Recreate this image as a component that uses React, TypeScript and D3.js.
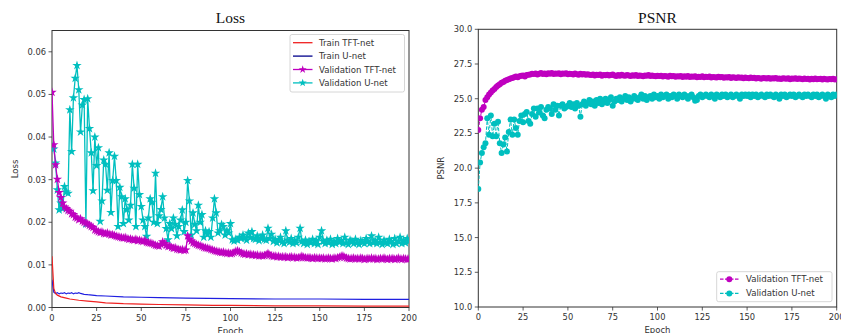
import * as d3 from "d3";

// ---------- data ----------
const xTicks = [0, 25, 50, 75, 100, 125, 150, 175, 200];
const lossTicks = [0, 0.01, 0.02, 0.03, 0.04, 0.05, 0.06];
const psnrTicks = [10, 12.5, 15, 17.5, 20, 22.5, 25, 27.5, 30];

const trainTftEpochs = [0, 1, 2, 3, 5, 8, 10, 15, 20, 25, 30, 40, 50, 60, 75, 90, 100, 125, 150, 175, 200];
const trainTft = [0.0120, 0.0045, 0.0033, 0.0029, 0.0025, 0.0022, 0.0020, 0.0017, 0.0015, 0.0013, 0.0011, 0.0009, 0.0008, 0.0007, 0.0006, 0.0005, 0.0005, 0.0004, 0.0004, 0.0003, 0.0003];

const trainUnetEpochs = [0, 1, 2, 3, 4, 5, 6, 7, 8, 9, 10, 11, 12, 13, 14, 15, 16, 18, 20, 25, 30, 40, 50, 60, 75, 100, 125, 150, 175, 200];
const trainUnet = [0.0065, 0.0036, 0.0033, 0.0035, 0.0032, 0.0034, 0.0033, 0.0035, 0.0032, 0.0034, 0.0033, 0.0035, 0.0032, 0.0034, 0.0033, 0.0035, 0.0033, 0.0031, 0.0030, 0.0028, 0.0027, 0.0025, 0.0024, 0.0023, 0.0022, 0.0021, 0.0020, 0.0020, 0.0019, 0.0019];

// one value per epoch, 0..200
const valTftLoss = [
  0.0505, 0.0382, 0.0335, 0.0301, 0.0270, 0.0258, 0.0245, 0.0236, 0.0232, 0.0228,
  0.0226, 0.0220, 0.0218, 0.0212, 0.0210, 0.0206, 0.0208, 0.0203, 0.0200, 0.0198,
  0.0196, 0.0193, 0.0190, 0.0188, 0.0182, 0.0180, 0.0178, 0.0176, 0.0177, 0.0174,
  0.0173, 0.0175, 0.0172, 0.0170, 0.0171, 0.0169, 0.0167, 0.0166, 0.0165, 0.0164,
  0.0163, 0.0164, 0.0162, 0.0160, 0.0161, 0.0159, 0.0158, 0.0160, 0.0157, 0.0158,
  0.0156, 0.0155, 0.0157, 0.0153, 0.0152, 0.0151, 0.0150, 0.0148, 0.0146, 0.0145,
  0.0144, 0.0148, 0.0154, 0.0150, 0.0146, 0.0143, 0.0144, 0.0141, 0.0139, 0.0140,
  0.0137, 0.0136, 0.0135, 0.0136, 0.0134, 0.0135, 0.0168, 0.0160, 0.0156, 0.0152,
  0.0150, 0.0148, 0.0146, 0.0145, 0.0143, 0.0141, 0.0140, 0.0139, 0.0138, 0.0136,
  0.0135, 0.0133, 0.0132, 0.0131, 0.0130, 0.0129, 0.0130, 0.0128, 0.0127, 0.0128,
  0.0126, 0.0127, 0.0129, 0.0132, 0.0133, 0.0131, 0.0128, 0.0126, 0.0125, 0.0126,
  0.0124, 0.0125, 0.0123, 0.0124, 0.0122, 0.0123, 0.0121, 0.0122, 0.0121, 0.0122,
  0.0124, 0.0127, 0.0123, 0.0121, 0.0120, 0.0121, 0.0119, 0.0120, 0.0118, 0.0119,
  0.0118, 0.0119, 0.0117, 0.0118, 0.0119, 0.0117, 0.0118, 0.0116, 0.0117, 0.0118,
  0.0120, 0.0118, 0.0117, 0.0116, 0.0117, 0.0116, 0.0115, 0.0117, 0.0116, 0.0115,
  0.0116, 0.0115, 0.0116, 0.0114, 0.0115, 0.0116, 0.0115, 0.0114, 0.0116, 0.0115,
  0.0117, 0.0118, 0.0120, 0.0121, 0.0118, 0.0116, 0.0115, 0.0114, 0.0115, 0.0116,
  0.0114, 0.0115, 0.0114, 0.0116, 0.0115, 0.0113, 0.0114, 0.0115, 0.0114, 0.0116,
  0.0114, 0.0115, 0.0113, 0.0114, 0.0115, 0.0114, 0.0116, 0.0114, 0.0113, 0.0115,
  0.0114, 0.0115, 0.0113, 0.0114, 0.0116, 0.0114, 0.0113, 0.0115, 0.0114, 0.0113,
  0.0114,
];

const valUnetLoss = [
  0.0378, 0.0372, 0.0339, 0.0276, 0.0229, 0.0245, 0.0232, 0.0284, 0.0271, 0.0268,
  0.0464, 0.0366, 0.0492, 0.0538, 0.0568, 0.0511, 0.0412, 0.0475, 0.0488, 0.0196,
  0.0490, 0.0420, 0.0363, 0.0274, 0.0400, 0.0333, 0.0375, 0.0202, 0.0250, 0.0346,
  0.0336, 0.0275, 0.0363, 0.0223, 0.0298, 0.0355, 0.0298, 0.0190, 0.0282, 0.0260,
  0.0197, 0.0255, 0.0230, 0.0205, 0.0240, 0.0336, 0.0280, 0.0190, 0.0336, 0.0265,
  0.0237, 0.0205, 0.0190, 0.0167, 0.0210, 0.0255, 0.0247, 0.0200, 0.0315, 0.0197,
  0.0215, 0.0230, 0.0260, 0.0210, 0.0185, 0.0159, 0.0197, 0.0185, 0.0210, 0.0195,
  0.0168, 0.0190, 0.0205, 0.0229, 0.0178, 0.0200, 0.0298, 0.0250, 0.0170, 0.0222,
  0.0195, 0.0180, 0.0240, 0.0200, 0.0218, 0.0165, 0.0180, 0.0172, 0.0178, 0.0165,
  0.0210, 0.0255, 0.0222, 0.0175, 0.0180, 0.0195, 0.0190, 0.0170, 0.0180, 0.0175,
  0.0197, 0.0159, 0.0156, 0.0160, 0.0158, 0.0165, 0.0162, 0.0170, 0.0163, 0.0158,
  0.0175, 0.0164, 0.0178, 0.0162, 0.0160, 0.0168, 0.0157, 0.0163, 0.0170, 0.0160,
  0.0158, 0.0186, 0.0162, 0.0172, 0.0155, 0.0160, 0.0152, 0.0158, 0.0165, 0.0154,
  0.0150, 0.0180, 0.0158, 0.0153, 0.0162, 0.0150, 0.0157, 0.0152, 0.0165, 0.0186,
  0.0155, 0.0150, 0.0158, 0.0148, 0.0155, 0.0152, 0.0160, 0.0150, 0.0157, 0.0148,
  0.0165, 0.0180, 0.0155, 0.0150, 0.0158, 0.0152, 0.0160, 0.0148, 0.0155, 0.0150,
  0.0162, 0.0153, 0.0157, 0.0150, 0.0165, 0.0152, 0.0148, 0.0158, 0.0155, 0.0150,
  0.0160, 0.0152, 0.0148, 0.0157, 0.0153, 0.0150, 0.0162, 0.0155, 0.0150, 0.0168,
  0.0152, 0.0157, 0.0150, 0.0165, 0.0153, 0.0148, 0.0158, 0.0152, 0.0150, 0.0160,
  0.0155, 0.0148, 0.0162, 0.0150, 0.0155, 0.0165, 0.0150, 0.0158, 0.0152, 0.0162,
  0.0155,
];

const valTftPsnr = [
  22.75, 23.6, 24.2, 24.4, 24.9, 25.1, 25.3, 25.45, 25.6, 25.7,
  25.85, 25.95, 26.05, 26.15, 26.2, 26.3, 26.35, 26.4, 26.45, 26.5,
  26.55, 26.6, 26.55, 26.62, 26.65, 26.68, 26.6, 26.7, 26.72, 26.75,
  26.8, 26.78, 26.82, 26.75, 26.8, 26.85, 26.78, 26.82, 26.76, 26.84,
  26.8, 26.86, 26.78, 26.82, 26.8, 26.84, 26.77, 26.82, 26.79, 26.83,
  26.76, 26.8, 26.78, 26.74, 26.81, 26.77, 26.72, 26.79, 26.75, 26.78,
  26.73, 26.76, 26.72, 26.7, 26.75, 26.68, 26.73, 26.7, 26.74, 26.66,
  26.71, 26.69, 26.72, 26.67, 26.7, 26.74, 26.68, 26.64, 26.7, 26.66,
  26.72, 26.68, 26.65, 26.7, 26.67, 26.63, 26.69, 26.66, 26.71, 26.64,
  26.68, 26.66, 26.62, 26.68, 26.65, 26.7, 26.63, 26.67, 26.64, 26.61,
  26.66, 26.63, 26.66, 26.6, 26.64, 26.62, 26.58, 26.65, 26.61, 26.63,
  26.59, 26.62, 26.6, 26.64, 26.57, 26.61, 26.59, 26.63, 26.56, 26.6,
  26.58, 26.62, 26.55, 26.59, 26.57, 26.61, 26.54, 26.58, 26.56, 26.6,
  26.53, 26.57, 26.55, 26.52, 26.58, 26.54, 26.56, 26.51, 26.55, 26.53,
  26.57, 26.5, 26.54, 26.52, 26.49, 26.55, 26.51, 26.53, 26.48, 26.52,
  26.5, 26.47, 26.52, 26.49, 26.51, 26.46, 26.5, 26.48, 26.44, 26.5,
  26.47, 26.45, 26.49, 26.43, 26.47, 26.45, 26.5, 26.44, 26.46, 26.42,
  26.48, 26.45, 26.43, 26.47, 26.41, 26.45, 26.44, 26.48, 26.42, 26.46,
  26.43, 26.4, 26.45, 26.42, 26.44, 26.39, 26.43, 26.41, 26.45, 26.4,
  26.42, 26.44, 26.39, 26.43, 26.41, 26.38, 26.42, 26.4, 26.44, 26.39,
  26.41,
];

const valUnetPsnr = [
  18.5, 20.4, 21.1, 21.5, 21.8, 23.6, 22.4, 23.8, 22.3, 23.2,
  22.3, 23.35, 21.8, 21.1, 21.7, 22.2, 21.2, 22.6, 23.5, 22.4,
  23.5, 22.9, 22.4, 23.4, 23.8, 23.3, 23.9, 24.05, 23.4, 23.2,
  23.9, 24.3, 23.7, 24.3, 24.0, 24.4, 23.8, 23.6, 24.2, 24.4,
  24.3, 23.9, 24.6, 24.2, 24.5, 23.8, 24.5, 24.6, 24.3, 24.4,
  24.5, 24.7, 24.4, 24.6, 24.3, 24.7, 24.5, 23.7, 24.6, 24.8,
  24.5, 24.7, 24.9, 24.6, 24.8, 24.5, 24.9, 24.7, 25.0, 24.6,
  24.8, 25.0, 24.7, 24.9, 25.1, 24.5, 24.8, 25.0, 24.9, 25.1,
  24.8, 25.0, 25.2, 24.9, 25.1, 24.8, 25.0, 25.2, 25.0, 24.9,
  25.1, 25.3, 25.0, 25.2, 24.9, 25.1, 25.2, 25.0, 25.3, 25.1,
  25.2, 25.0, 25.3, 25.1, 25.2, 25.3, 25.0, 25.2, 25.1, 25.3,
  25.2, 25.0, 25.3, 25.2, 25.1, 25.3, 25.2, 25.0, 25.2, 25.3,
  25.1, 24.85, 24.9, 25.2, 25.3, 25.1, 25.2, 25.3, 25.2, 25.1,
  25.3, 25.2, 25.0, 25.3, 25.2, 25.1, 25.3, 25.2, 25.3, 25.1,
  25.2, 25.3, 25.1, 25.2, 25.3, 25.2, 25.0, 25.3, 25.2, 25.3,
  25.2, 25.3, 25.1, 25.3, 25.2, 25.3, 25.1, 25.2, 25.3, 25.2,
  25.1, 25.3, 25.2, 25.3, 25.2, 25.1, 25.3, 25.2, 25.0, 25.3,
  25.2, 25.3, 25.1, 25.2, 25.3, 25.2, 25.3, 25.1, 25.2, 25.3,
  25.2, 25.1, 25.3, 25.2, 25.3, 25.2, 25.1, 25.3, 25.2, 25.3,
  25.1, 25.2, 25.3, 25.2, 25.0, 25.3, 25.2, 25.1, 25.3, 25.2,
  25.3,
];

// ---------- styling ----------
const RED = "#f02020";
const BLUE = "#1f1fe0";
const MAG = "#bf00bf";
const CYAN = "#00bfbf";
const AXIS = "#333";
const SANS = "DejaVu Sans, sans-serif";
const SERIF = "Liberation Serif, Times New Roman, serif";

const star = d3.symbol().type(d3.symbolStar).size(28);
const starSmall = d3.symbol().type(d3.symbolStar).size(20);

type Box = { x0: number; x1: number; y0: number; y1: number };

function Frame({ box, y, yTicks, fmt, title, ylabel, id }: any) {
  const x = d3.scaleLinear().domain([0, 200]).range([box.x0, box.x1]);
  return (
    <g>
      <rect x={box.x0} y={box.y0} width={box.x1 - box.x0} height={box.y1 - box.y0} fill="none" stroke={AXIS} strokeWidth={1} />
      {xTicks.map((t) => (
        <g key={"x" + t}>
          <line x1={x(t)} x2={x(t)} y1={box.y1} y2={box.y1 + 3.5} stroke={AXIS} strokeWidth={0.8} />
          <text x={x(t)} y={box.y1 + 13} textAnchor="middle" fontSize={8.3} fontFamily={SANS} fill={AXIS}>{t}</text>
        </g>
      ))}
      {yTicks.map((t: number) => (
        <g key={"y" + t}>
          <line x1={box.x0 - 3.5} x2={box.x0} y1={y(t)} y2={y(t)} stroke={AXIS} strokeWidth={0.8} />
          <text x={box.x0 - 6} y={y(t) + 3} textAnchor="end" fontSize={8.3} fontFamily={SANS} fill={AXIS}>{fmt(t)}</text>
        </g>
      ))}
      <text x={(box.x0 + box.x1) / 2} y={23} textAnchor="middle" fontSize={15.5} fontFamily={SERIF} fill="#111">{title}</text>
      <text x={(box.x0 + box.x1) / 2} y={box.y1 + 26} textAnchor="middle" fontSize={8.5} fontFamily={SANS} fill={AXIS}>Epoch</text>
      <text transform={`translate(${box.x0 - 34},${(box.y0 + box.y1) / 2}) rotate(-90)`} textAnchor="middle" fontSize={8.5} fontFamily={SANS} fill={AXIS}>{ylabel}</text>
      <clipPath id={id}>
        <rect x={box.x0} y={box.y0} width={box.x1 - box.x0} height={box.y1 - box.y0} />
      </clipPath>
    </g>
  );
}

function LossChart() {
  const box: Box = { x0: 52, x1: 409, y0: 30.5, y1: 307.5 };
  const x = d3.scaleLinear().domain([0, 200]).range([box.x0, box.x1]);
  const y = d3.scaleLinear().domain([0, 0.065]).range([box.y1, box.y0]);
  const line = d3.line<[number, number]>().x((d) => x(d[0])).y((d) => y(d[1]));
  const tft: [number, number][] = trainTftEpochs.map((e, i) => [e, trainTft[i]]);
  const un: [number, number][] = trainUnetEpochs.map((e, i) => [e, trainUnet[i]]);
  const vt: [number, number][] = valTftLoss.map((v, i) => [i, v]);
  const vu: [number, number][] = valUnetLoss.map((v, i) => [i, v]);

  const legend = [
    { label: "Train TFT-net", color: RED, marker: false },
    { label: "Train U-net", color: "#00008b", marker: false },
    { label: "Validation TFT-net", color: MAG, marker: true },
    { label: "Validation U-net", color: CYAN, marker: true },
  ];

  return (
    <g>
      <Frame box={box} y={y} yTicks={lossTicks} fmt={d3.format(".2f")} title="Loss" ylabel="Loss" id="clipL" />
      <g clipPath="url(#clipL)">
        <path d={line(vu) || ""} fill="none" stroke={CYAN} strokeWidth={1.3} />
        {vu.map((d, i) => (
          <path key={"u" + i} d={star() || ""} transform={`translate(${x(d[0])},${y(d[1])})`} fill={CYAN} />
        ))}
        <path d={line(vt) || ""} fill="none" stroke={MAG} strokeWidth={1.3} />
        {vt.map((d, i) => (
          <path key={"t" + i} d={star() || ""} transform={`translate(${x(d[0])},${y(d[1])})`} fill={MAG} />
        ))}
        <path d={line(un) || ""} fill="none" stroke={BLUE} strokeWidth={1.2} />
        <path d={line(tft) || ""} fill="none" stroke={RED} strokeWidth={1.2} />
      </g>
      <rect x={290} y={34.5} width={114.5} height={57.5} rx={2} fill="white" fillOpacity={0.85} stroke="#ccc" strokeWidth={0.8} />
      {legend.map((l, i) => {
        const cy = 42.7 + i * 13.4;
        return (
          <g key={l.label}>
            <line x1={293} x2={312.5} y1={cy} y2={cy} stroke={l.color} strokeWidth={1.3} />
            {l.marker && <path d={starSmall() || ""} transform={`translate(302.7,${cy})`} fill={l.color} />}
            <text x={319} y={cy + 3} fontSize={8.6} fontFamily={SANS} fill={AXIS}>{l.label}</text>
          </g>
        );
      })}
    </g>
  );
}

function PsnrChart() {
  const box: Box = { x0: 478.3, x1: 836.7, y0: 29.3, y1: 307 };
  const x = d3.scaleLinear().domain([0, 200]).range([box.x0, box.x1]);
  const y = d3.scaleLinear().domain([10, 30]).range([box.y1, box.y0]);
  const line = d3.line<number>().x((_, i) => x(i)).y((d) => y(d));
  const legend = [
    { label: "Validation TFT-net", color: MAG },
    { label: "Validation U-net", color: CYAN },
  ];
  return (
    <g>
      <Frame box={box} y={y} yTicks={psnrTicks} fmt={d3.format(".1f")} title="PSNR" ylabel="PSNR" id="clipR" />
      <g clipPath="url(#clipR)">
        <path d={line(valTftPsnr) || ""} fill="none" stroke={MAG} strokeWidth={1} strokeDasharray="3.5,1.5" />
        {valTftPsnr.map((v, i) => (
          <circle key={"t" + i} cx={x(i)} cy={y(v)} r={3} fill={MAG} />
        ))}
        <path d={line(valUnetPsnr) || ""} fill="none" stroke={CYAN} strokeWidth={1} strokeDasharray="3.5,1.5" />
        {valUnetPsnr.map((v, i) => (
          <circle key={"u" + i} cx={x(i)} cy={y(v)} r={3} fill={CYAN} />
        ))}
      </g>
      <rect x={716.7} y={271.7} width={115.3} height={30} rx={2} fill="white" fillOpacity={0.85} stroke="#ccc" strokeWidth={0.8} />
      {legend.map((l, i) => {
        const cy = 279.2 + i * 14.2;
        return (
          <g key={l.label}>
            <line x1={720} x2={738.5} y1={cy} y2={cy} stroke={l.color} strokeWidth={1.2} strokeDasharray="3.5,1.5" />
            <circle cx={729.3} cy={cy} r={3} fill={l.color} />
            <text x={746} y={cy + 3} fontSize={8.6} fontFamily={SANS} fill={AXIS}>{l.label}</text>
          </g>
        );
      })}
    </g>
  );
}

export default function App() {
  return (
    <svg width={841} height={333} style={{ position: "absolute", left: 0, top: 0, background: "white" }}>
      <rect width={841} height={333} fill="white" />
      <LossChart />
      <PsnrChart />
    </svg>
  );
}
